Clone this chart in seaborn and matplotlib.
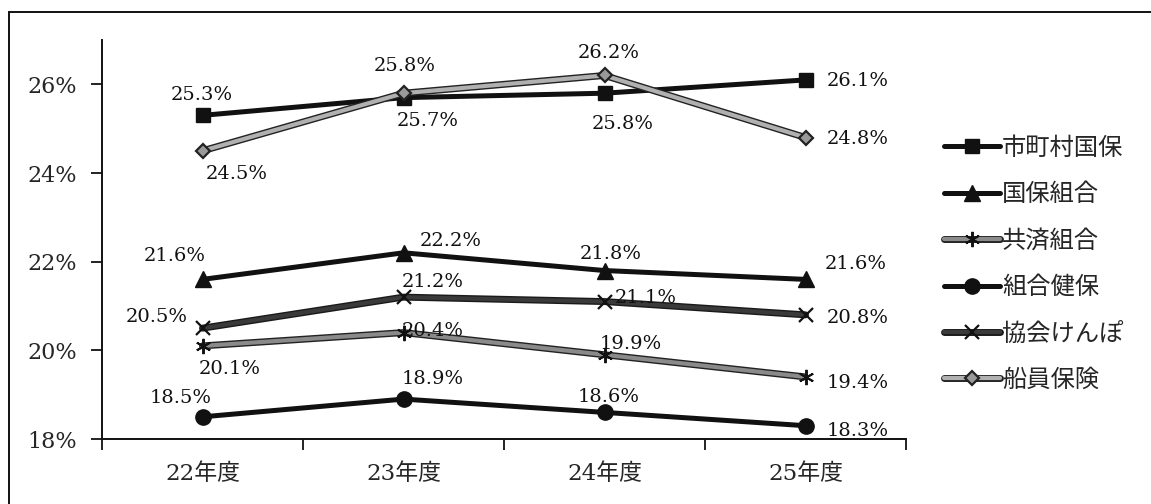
import matplotlib
matplotlib.use("Agg")
import matplotlib.pyplot as plt
import matplotlib.patheffects as pe
from matplotlib.patches import Rectangle
from matplotlib.lines import Line2D
from matplotlib.legend_handler import HandlerTuple
from matplotlib.ticker import FixedLocator, FuncFormatter
import seaborn as sns
import pandas as pd

# 年度
years = ["22年度", "23年度", "24年度", "25年度"]

# 保険者別の割合 (%)
shichoson_kokuho = [25.3, 25.7, 25.8, 26.1]
kokuho_kumiai = [21.6, 22.2, 21.8, 21.6]
kyosai_kumiai = [20.1, 20.4, 19.9, 19.4]
kumiai_kenpo = [18.5, 18.9, 18.6, 18.3]
kyokai_kenpo = [20.5, 21.2, 21.1, 20.8]
sen_in_hoken = [24.5, 25.8, 26.2, 24.8]

series_names = ["市町村国保", "国保組合", "共済組合", "組合健保", "協会けんぽ", "船員保険"]
series_values = [shichoson_kokuho, kokuho_kumiai, kyosai_kumiai,
                 kumiai_kenpo, kyokai_kenpo, sen_in_hoken]

sns.set_theme(style="white")
plt.rcParams["font.family"] = ["DejaVu Serif", "Noto Sans CJK JP"]

W, H, DPI = 1151, 504, 100
fig = plt.figure(figsize=(W / DPI, H / DPI), dpi=DPI)
ax = fig.add_axes([102 / W, 1 - 439 / H, (906 - 102) / W, (439 - 40) / H])

# line / marker styling per series
styles = {
    "市町村国保": dict(color="#111111", marker="s", ms=10, mfc="#111111", mec="#111111", mew=1.0, edge=None),
    "国保組合": dict(color="#111111", marker="^", ms=11, mfc="#111111", mec="#111111", mew=1.0, edge=None),
    "共済組合": dict(color="#8a8a8a", marker=(6, 2, 0), ms=11, mfc="#111111", mec="#111111", mew=1.4, edge="#222222"),
    "組合健保": dict(color="#111111", marker="o", ms=11, mfc="#111111", mec="#111111", mew=1.0, edge=None),
    "協会けんぽ": dict(color="#3a3a3a", marker="x", ms=10, mfc="#111111", mec="#111111", mew=1.6, edge="#1a1a1a"),
    "船員保険": dict(color="#b0b0b0", marker="D", ms=7, mfc="#9a9a9a", mec="#222222", mew=1.6, edge="#222222"),
}

# label offsets in pixels (dx, dy) and horizontal alignment for each value label
label_pos = {
    "市町村国保": [(-1, 20, "center"), (24, -23, "center"), (18, -31, "center"), (21, -1, "left")],
    "国保組合": [(-28, 23, "center"), (47, 12, "center"), (6, 17, "center"), (19, 15, "left")],
    "共済組合": [(27, -23, "center"), (29, 2, "center"), (26, 11, "center"), (21, -6, "left")],
    "組合健保": [(-22, 19, "center"), (29, 20, "center"), (4, 15, "center"), (21, -5, "left")],
    "協会けんぽ": [(-46, 11, "center"), (29, 15, "center"), (41, 4, "center"), (21, -3, "left")],
    "船員保険": [(34, -23, "center"), (1, 27, "center"), (4, 22, "center"), (21, -1, "left")],
}

legend_handles = {}
draw_order = ["組合健保", "共済組合", "協会けんぽ", "国保組合", "市町村国保", "船員保険"]
for name in draw_order:
    vals = series_values[series_names.index(name)]
    st = styles[name]
    df = pd.DataFrame({"year": years, "value": vals})
    lw = 3.0 if st["edge"] else 3.6
    effects = [pe.Stroke(linewidth=5.0, foreground=st["edge"]), pe.Normal()] if st["edge"] else None
    # connecting line
    sns.lineplot(data=df, x="year", y="value", ax=ax, color=st["color"], lw=lw, sort=False,
                 path_effects=effects)
    # point markers on top of the line
    sns.lineplot(data=df, x="year", y="value", ax=ax, linestyle="none", sort=False,
                 marker=st["marker"], markersize=st["ms"], markerfacecolor=st["mfc"],
                 markeredgecolor=st["mec"], markeredgewidth=st["mew"], color=st["mec"])
    legend_handles[name] = (
        Line2D([], [], color=st["color"], lw=lw, path_effects=effects),
        Line2D([], [], ls="none", marker=st["marker"], markersize=st["ms"], markerfacecolor=st["mfc"],
               markeredgecolor=st["mec"], markeredgewidth=st["mew"]),
    )
    for i, v in enumerate(vals):
        dx, dy, ha = label_pos[name][i]
        ax.annotate(f"{v:.1f}%", xy=(i, v), xytext=(dx, dy), textcoords="offset pixels",
                    ha=ha, va="center", fontsize=14, family="DejaVu Serif", color="#111111")

ax.set_xlim(-0.5, 3.5)
ax.set_ylim(18, 27)
ax.yaxis.set_major_locator(FixedLocator([18, 20, 22, 24, 26]))
ax.yaxis.set_major_formatter(FuncFormatter(lambda v, p: f"{v:.0f}%"))
ax.set_xticks(range(len(years)))
ax.set_xticklabels(years)
ax.xaxis.set_minor_locator(FixedLocator([-0.5, 0.5, 1.5, 2.5, 3.5]))
ax.tick_params(axis="x", which="major", length=0, pad=17, labelsize=16.5)
ax.tick_params(axis="x", which="minor", length=8, width=1.3, color="#111111", direction="out", bottom=True)
ax.tick_params(axis="y", length=8, width=1.3, color="#111111", direction="out", left=True,
               pad=10, labelsize=16)
ax.set_xlabel("")
ax.set_ylabel("")
for s in ["top", "right"]:
    ax.spines[s].set_visible(False)
for s in ["left", "bottom"]:
    ax.spines[s].set_color("#111111")
    ax.spines[s].set_linewidth(1.4)
ax.grid(False)

leg = ax.legend([legend_handles[n] for n in series_names], series_names,
                handler_map={tuple: HandlerTuple(ndivide=1, pad=0)},
                loc="upper left", bbox_to_anchor=(922 / W, 1 - 113 / H),
                bbox_transform=fig.transFigure, frameon=False,
                handlelength=2.3, handletextpad=0.1, labelspacing=0.84,
                prop={"family": ["Noto Sans CJK JP"], "size": 17.5})

# outer frame
fig.patches.append(Rectangle((8.5 / W, -0.2), 1.2, 1.2 - 12.5 / H, transform=fig.transFigure,
                             fill=False, lw=1.4, ec="#111111"))

fig.savefig("out.png", dpi=DPI)
